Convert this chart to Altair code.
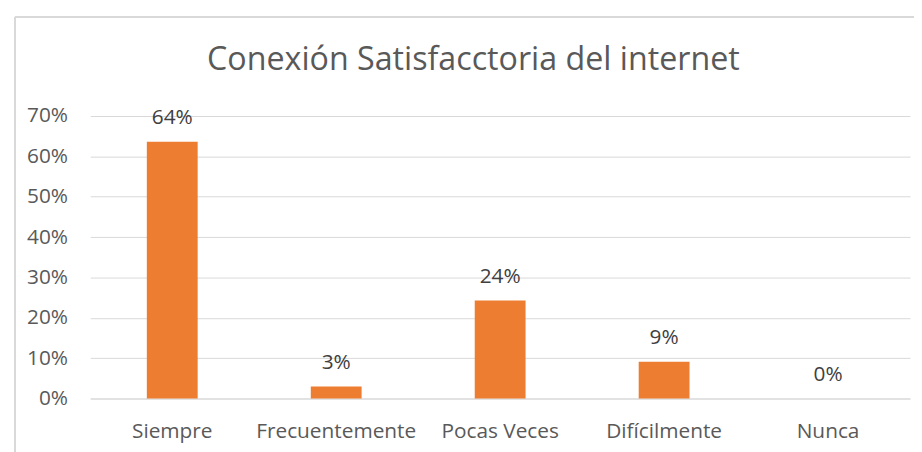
import altair as alt
import pandas as pd

categories = ["Siempre", "Frecuentemente", "Pocas Veces", "Difícilmente", "Nunca"]
values = [0.636, 0.03, 0.243, 0.091, 0.0]
labels = ["64%", "3%", "24%", "9%", "0%"]

df = pd.DataFrame({"cat": categories, "val": values, "lab": labels})

FONT = "Open Sans"
GREY = "#595959"

x_enc = alt.X("cat:N", sort=categories, title=None,
              scale=alt.Scale(paddingInner=0.69, paddingOuter=0.345),
              axis=alt.Axis(labelAngle=0, ticks=False, domain=True, domainColor="#D9D9D9",
                            grid=False,
                            labelFont=FONT, labelFontSize=21, labelColor=GREY, labelPadding=22))
y_enc = alt.Y("val:Q", title=None,
              scale=alt.Scale(domain=[0, 0.7]),
              axis=alt.Axis(format=".0%", values=[0, 0.1, 0.2, 0.3, 0.4, 0.5, 0.6, 0.7],
                            ticks=False, domain=False, grid=True, gridColor="#D9D9D9",
                            labelFont=FONT, labelFontSize=21, labelColor=GREY, labelPadding=23))

bars = alt.Chart(df).mark_bar(color="#ED7D31").encode(x=x_enc, y=y_enc)
text = alt.Chart(df).mark_text(dy=-24, baseline="middle", font=FONT, fontSize=21, color="#404040").encode(
    x=alt.X("cat:N", sort=categories), y="val:Q", text="lab:N")

border_left = alt.Chart(df).mark_rule(color="#D9D9D9", strokeWidth=1.5).encode(
    x=alt.value(-76), y=alt.value(-100), y2=alt.value(400))
border_top = alt.Chart(df).mark_rule(color="#D9D9D9", strokeWidth=1.5).encode(
    x=alt.value(-76), x2=alt.value(900), y=alt.value(-100))

chart = alt.layer(bars, text, border_left, border_top).properties(
    width=827, height=285,
    title=alt.TitleParams("Conexión Satisfacctoria del internet", font=FONT, fontSize=32.5,
                          fontWeight="normal", color=GREY, anchor="middle", frame="group",
                          offset=0, baseline="alphabetic", dy=87, dx=-27),
    autosize=alt.AutoSizeParams(type="none"),
    padding={"left": 83, "top": 107, "right": 4, "bottom": 52},
).configure_view(stroke=None)

chart.save("out.html", embed_options={"renderer": "svg", "actions": False})
